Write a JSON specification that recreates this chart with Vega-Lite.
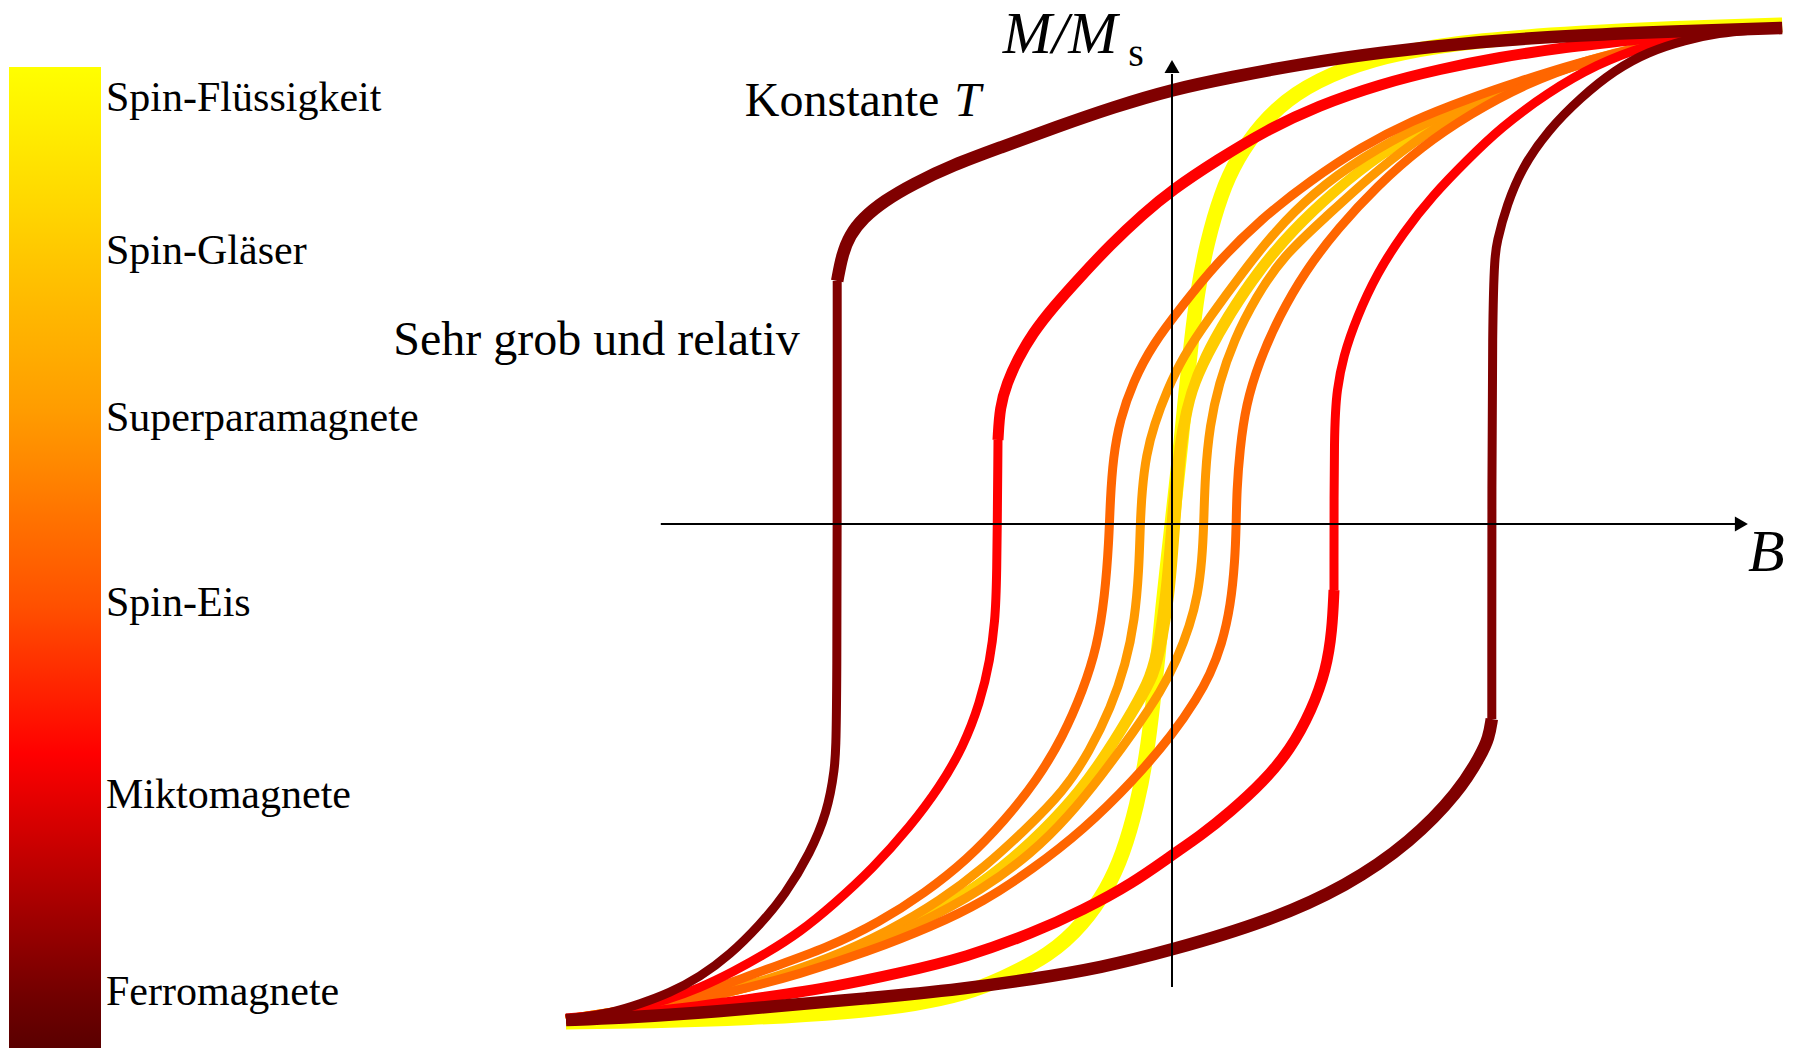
{
  "$schema": "https://vega.github.io/schema/vega-lite/v6.json",
  "width": 1800,
  "height": 1048,
  "padding": 0,
  "autosize": "none",
  "background": "white",
  "config": {"view": {"stroke": null}},
  "datasets": {
    "klassen": [
      {"klasse": "Ferromagnete", "skala": 0.078},
      {"klasse": "Miktomagnete", "skala": 0.30},
      {"klasse": "Spin-Eis", "skala": 0.507},
      {"klasse": "Superparamagnete", "skala": 0.64},
      {"klasse": "Spin-Gläser", "skala": 0.824},
      {"klasse": "Spin-Flüssigkeit", "skala": 1.0}
    ],
    "kurven": [
      {"klasse": "Spin-Flüssigkeit", "zweig": "rev", "teil": "Bogen", "B": -101.0, "M": -99.6},
      {"klasse": "Spin-Flüssigkeit", "zweig": "rev", "teil": "Bogen", "B": -87.0, "M": -99.4},
      {"klasse": "Spin-Flüssigkeit", "zweig": "rev", "teil": "Bogen", "B": -70.3, "M": -98.8},
      {"klasse": "Spin-Flüssigkeit", "zweig": "rev", "teil": "Bogen", "B": -53.7, "M": -97.6},
      {"klasse": "Spin-Flüssigkeit", "zweig": "rev", "teil": "Bogen", "B": -42.5, "M": -96.0},
      {"klasse": "Spin-Flüssigkeit", "zweig": "rev", "teil": "Bogen", "B": -34.2, "M": -93.8},
      {"klasse": "Spin-Flüssigkeit", "zweig": "rev", "teil": "Bogen", "B": -28.7, "M": -91.2},
      {"klasse": "Spin-Flüssigkeit", "zweig": "rev", "teil": "Bogen", "B": -20.3, "M": -86.2},
      {"klasse": "Spin-Flüssigkeit", "zweig": "rev", "teil": "Bogen", "B": -14.8, "M": -80.0},
      {"klasse": "Spin-Flüssigkeit", "zweig": "rev", "teil": "Bogen", "B": -10.8, "M": -73.0},
      {"klasse": "Spin-Flüssigkeit", "zweig": "rev", "teil": "Bogen", "B": -8.2, "M": -66.2},
      {"klasse": "Spin-Flüssigkeit", "zweig": "rev", "teil": "Bogen", "B": -5.8, "M": -56.2},
      {"klasse": "Spin-Flüssigkeit", "zweig": "rev", "teil": "Bogen", "B": -4.2, "M": -46.2},
      {"klasse": "Spin-Flüssigkeit", "zweig": "rev", "teil": "Bogen", "B": -3.2, "M": -36.2},
      {"klasse": "Spin-Flüssigkeit", "zweig": "rev", "teil": "Bogen", "B": -2.3, "M": -26.2},
      {"klasse": "Spin-Flüssigkeit", "zweig": "rev", "teil": "Bogen", "B": -1.5, "M": -16.2},
      {"klasse": "Spin-Flüssigkeit", "zweig": "rev", "teil": "Bogen", "B": -0.7, "M": -7.6},
      {"klasse": "Spin-Flüssigkeit", "zweig": "rev", "teil": "Bogen", "B": 0.0, "M": 0.0},
      {"klasse": "Spin-Flüssigkeit", "zweig": "rev", "teil": "Bogen", "B": 0.7, "M": 7.6},
      {"klasse": "Spin-Flüssigkeit", "zweig": "rev", "teil": "Bogen", "B": 1.5, "M": 16.2},
      {"klasse": "Spin-Flüssigkeit", "zweig": "rev", "teil": "Bogen", "B": 2.3, "M": 26.2},
      {"klasse": "Spin-Flüssigkeit", "zweig": "rev", "teil": "Bogen", "B": 3.2, "M": 36.2},
      {"klasse": "Spin-Flüssigkeit", "zweig": "rev", "teil": "Bogen", "B": 4.2, "M": 46.2},
      {"klasse": "Spin-Flüssigkeit", "zweig": "rev", "teil": "Bogen", "B": 5.8, "M": 56.2},
      {"klasse": "Spin-Flüssigkeit", "zweig": "rev", "teil": "Bogen", "B": 8.2, "M": 66.2},
      {"klasse": "Spin-Flüssigkeit", "zweig": "rev", "teil": "Bogen", "B": 10.8, "M": 73.0},
      {"klasse": "Spin-Flüssigkeit", "zweig": "rev", "teil": "Bogen", "B": 14.8, "M": 80.0},
      {"klasse": "Spin-Flüssigkeit", "zweig": "rev", "teil": "Bogen", "B": 20.3, "M": 86.2},
      {"klasse": "Spin-Flüssigkeit", "zweig": "rev", "teil": "Bogen", "B": 28.7, "M": 91.2},
      {"klasse": "Spin-Flüssigkeit", "zweig": "rev", "teil": "Bogen", "B": 38.0, "M": 94.4},
      {"klasse": "Spin-Flüssigkeit", "zweig": "rev", "teil": "Bogen", "B": 51.3, "M": 96.8},
      {"klasse": "Spin-Flüssigkeit", "zweig": "rev", "teil": "Bogen", "B": 68.0, "M": 98.2},
      {"klasse": "Spin-Flüssigkeit", "zweig": "rev", "teil": "Bogen", "B": 84.7, "M": 99.2},
      {"klasse": "Spin-Flüssigkeit", "zweig": "rev", "teil": "Bogen", "B": 101.7, "M": 99.8},

      {"klasse": "Spin-Gläser", "zweig": "ab", "teil": "Bogen", "B": 88.0, "M": 98.0},
      {"klasse": "Spin-Gläser", "zweig": "ab", "teil": "Bogen", "B": 78.0, "M": 95.2},
      {"klasse": "Spin-Gläser", "zweig": "ab", "teil": "Bogen", "B": 65.3, "M": 91.2},
      {"klasse": "Spin-Gläser", "zweig": "ab", "teil": "Bogen", "B": 53.7, "M": 86.0},
      {"klasse": "Spin-Gläser", "zweig": "ab", "teil": "Bogen", "B": 43.2, "M": 80.0},
      {"klasse": "Spin-Gläser", "zweig": "ab", "teil": "Bogen", "B": 34.0, "M": 73.4},
      {"klasse": "Spin-Gläser", "zweig": "ab", "teil": "Bogen", "B": 26.3, "M": 66.0},
      {"klasse": "Spin-Gläser", "zweig": "ab", "teil": "Bogen", "B": 19.8, "M": 58.6},
      {"klasse": "Spin-Gläser", "zweig": "ab", "teil": "Bogen", "B": 14.0, "M": 50.4},
      {"klasse": "Spin-Gläser", "zweig": "ab", "teil": "Bogen", "B": 9.0, "M": 41.4},
      {"klasse": "Spin-Gläser", "zweig": "ab", "teil": "Bogen", "B": 5.3, "M": 33.4},
      {"klasse": "Spin-Gläser", "zweig": "ab", "teil": "Bogen", "B": 3.0, "M": 26.4},
      {"klasse": "Spin-Gläser", "zweig": "ab", "teil": "Bogen", "B": 1.5, "M": 18.8},
      {"klasse": "Spin-Gläser", "zweig": "ab", "teil": "Bogen", "B": 0.7, "M": 10.8},
      {"klasse": "Spin-Gläser", "zweig": "ab", "teil": "Bogen", "B": 0.0, "M": 2.8},
      {"klasse": "Spin-Gläser", "zweig": "ab", "teil": "Bogen", "B": -0.5, "M": -5.2},
      {"klasse": "Spin-Gläser", "zweig": "ab", "teil": "Bogen", "B": -1.2, "M": -14.2},
      {"klasse": "Spin-Gläser", "zweig": "ab", "teil": "Bogen", "B": -2.2, "M": -23.2},
      {"klasse": "Spin-Gläser", "zweig": "ab", "teil": "Bogen", "B": -3.7, "M": -30.8},
      {"klasse": "Spin-Gläser", "zweig": "ab", "teil": "Bogen", "B": -6.5, "M": -36.8},
      {"klasse": "Spin-Gläser", "zweig": "ab", "teil": "Bogen", "B": -10.8, "M": -45.4},
      {"klasse": "Spin-Gläser", "zweig": "ab", "teil": "Bogen", "B": -15.5, "M": -53.4},
      {"klasse": "Spin-Gläser", "zweig": "ab", "teil": "Bogen", "B": -21.5, "M": -61.2},
      {"klasse": "Spin-Gläser", "zweig": "ab", "teil": "Bogen", "B": -28.3, "M": -68.6},
      {"klasse": "Spin-Gläser", "zweig": "ab", "teil": "Bogen", "B": -36.3, "M": -75.4},
      {"klasse": "Spin-Gläser", "zweig": "ab", "teil": "Bogen", "B": -45.5, "M": -81.4},
      {"klasse": "Spin-Gläser", "zweig": "ab", "teil": "Bogen", "B": -56.2, "M": -87.0},
      {"klasse": "Spin-Gläser", "zweig": "ab", "teil": "Bogen", "B": -67.3, "M": -91.6},
      {"klasse": "Spin-Gläser", "zweig": "ab", "teil": "Bogen", "B": -78.7, "M": -95.2},
      {"klasse": "Spin-Gläser", "zweig": "ab", "teil": "Bogen", "B": -89.8, "M": -97.4},
      {"klasse": "Spin-Gläser", "zweig": "ab", "teil": "Bogen", "B": -101.0, "M": -99.0},

      {"klasse": "Spin-Gläser", "zweig": "auf", "teil": "Bogen", "B": -101.0, "M": -99.0},
      {"klasse": "Spin-Gläser", "zweig": "auf", "teil": "Bogen", "B": -89.8, "M": -97.0},
      {"klasse": "Spin-Gläser", "zweig": "auf", "teil": "Bogen", "B": -78.3, "M": -94.8},
      {"klasse": "Spin-Gläser", "zweig": "auf", "teil": "Bogen", "B": -66.8, "M": -91.2},
      {"klasse": "Spin-Gläser", "zweig": "auf", "teil": "Bogen", "B": -55.5, "M": -86.6},
      {"klasse": "Spin-Gläser", "zweig": "auf", "teil": "Bogen", "B": -44.8, "M": -81.0},
      {"klasse": "Spin-Gläser", "zweig": "auf", "teil": "Bogen", "B": -35.7, "M": -75.0},
      {"klasse": "Spin-Gläser", "zweig": "auf", "teil": "Bogen", "B": -27.7, "M": -68.2},
      {"klasse": "Spin-Gläser", "zweig": "auf", "teil": "Bogen", "B": -20.8, "M": -60.8},
      {"klasse": "Spin-Gläser", "zweig": "auf", "teil": "Bogen", "B": -14.8, "M": -53.0},
      {"klasse": "Spin-Gläser", "zweig": "auf", "teil": "Bogen", "B": -10.2, "M": -45.0},
      {"klasse": "Spin-Gläser", "zweig": "auf", "teil": "Bogen", "B": -5.8, "M": -36.4},
      {"klasse": "Spin-Gläser", "zweig": "auf", "teil": "Bogen", "B": -2.8, "M": -30.4},
      {"klasse": "Spin-Gläser", "zweig": "auf", "teil": "Bogen", "B": -1.5, "M": -23.2},
      {"klasse": "Spin-Gläser", "zweig": "auf", "teil": "Bogen", "B": -0.3, "M": -14.2},
      {"klasse": "Spin-Gläser", "zweig": "auf", "teil": "Bogen", "B": 0.3, "M": -5.2},
      {"klasse": "Spin-Gläser", "zweig": "auf", "teil": "Bogen", "B": 0.8, "M": 2.8},
      {"klasse": "Spin-Gläser", "zweig": "auf", "teil": "Bogen", "B": 1.3, "M": 10.8},
      {"klasse": "Spin-Gläser", "zweig": "auf", "teil": "Bogen", "B": 2.0, "M": 18.8},
      {"klasse": "Spin-Gläser", "zweig": "auf", "teil": "Bogen", "B": 3.3, "M": 26.8},
      {"klasse": "Spin-Gläser", "zweig": "auf", "teil": "Bogen", "B": 6.0, "M": 33.8},
      {"klasse": "Spin-Gläser", "zweig": "auf", "teil": "Bogen", "B": 9.7, "M": 41.8},
      {"klasse": "Spin-Gläser", "zweig": "auf", "teil": "Bogen", "B": 14.7, "M": 50.8},
      {"klasse": "Spin-Gläser", "zweig": "auf", "teil": "Bogen", "B": 20.5, "M": 59.0},
      {"klasse": "Spin-Gläser", "zweig": "auf", "teil": "Bogen", "B": 27.0, "M": 66.4},
      {"klasse": "Spin-Gläser", "zweig": "auf", "teil": "Bogen", "B": 34.7, "M": 73.8},
      {"klasse": "Spin-Gläser", "zweig": "auf", "teil": "Bogen", "B": 43.8, "M": 80.4},
      {"klasse": "Spin-Gläser", "zweig": "auf", "teil": "Bogen", "B": 54.3, "M": 86.4},
      {"klasse": "Spin-Gläser", "zweig": "auf", "teil": "Bogen", "B": 66.0, "M": 91.6},
      {"klasse": "Spin-Gläser", "zweig": "auf", "teil": "Bogen", "B": 78.7, "M": 95.4},
      {"klasse": "Spin-Gläser", "zweig": "auf", "teil": "Bogen", "B": 88.0, "M": 98.0},

      {"klasse": "Superparamagnete", "zweig": "ab", "teil": "Bogen", "B": 88.0, "M": 98.0},
      {"klasse": "Superparamagnete", "zweig": "ab", "teil": "Bogen", "B": 78.0, "M": 95.2},
      {"klasse": "Superparamagnete", "zweig": "ab", "teil": "Bogen", "B": 65.8, "M": 91.2},
      {"klasse": "Superparamagnete", "zweig": "ab", "teil": "Bogen", "B": 53.0, "M": 86.0},
      {"klasse": "Superparamagnete", "zweig": "ab", "teil": "Bogen", "B": 41.8, "M": 80.0},
      {"klasse": "Superparamagnete", "zweig": "ab", "teil": "Bogen", "B": 31.7, "M": 73.4},
      {"klasse": "Superparamagnete", "zweig": "ab", "teil": "Bogen", "B": 23.3, "M": 66.0},
      {"klasse": "Superparamagnete", "zweig": "ab", "teil": "Bogen", "B": 17.2, "M": 58.6},
      {"klasse": "Superparamagnete", "zweig": "ab", "teil": "Bogen", "B": 11.8, "M": 50.4},
      {"klasse": "Superparamagnete", "zweig": "ab", "teil": "Bogen", "B": 6.3, "M": 41.4},
      {"klasse": "Superparamagnete", "zweig": "ab", "teil": "Bogen", "B": 1.8, "M": 33.4},
      {"klasse": "Superparamagnete", "zweig": "ab", "teil": "Bogen", "B": -0.8, "M": 26.8},
      {"klasse": "Superparamagnete", "zweig": "ab", "teil": "Bogen", "B": -3.0, "M": 19.8},
      {"klasse": "Superparamagnete", "zweig": "ab", "teil": "Bogen", "B": -4.3, "M": 13.8},
      {"klasse": "Superparamagnete", "zweig": "ab", "teil": "Bogen", "B": -5.0, "M": 6.8},
      {"klasse": "Superparamagnete", "zweig": "ab", "teil": "Bogen", "B": -5.3, "M": -0.2},
      {"klasse": "Superparamagnete", "zweig": "ab", "teil": "Bogen", "B": -5.5, "M": -9.2},
      {"klasse": "Superparamagnete", "zweig": "ab", "teil": "Bogen", "B": -6.2, "M": -19.2},
      {"klasse": "Superparamagnete", "zweig": "ab", "teil": "Bogen", "B": -7.7, "M": -28.0},
      {"klasse": "Superparamagnete", "zweig": "ab", "teil": "Bogen", "B": -10.2, "M": -36.8},
      {"klasse": "Superparamagnete", "zweig": "ab", "teil": "Bogen", "B": -13.7, "M": -45.4},
      {"klasse": "Superparamagnete", "zweig": "ab", "teil": "Bogen", "B": -18.0, "M": -53.4},
      {"klasse": "Superparamagnete", "zweig": "ab", "teil": "Bogen", "B": -24.5, "M": -61.2},
      {"klasse": "Superparamagnete", "zweig": "ab", "teil": "Bogen", "B": -31.2, "M": -68.6},
      {"klasse": "Superparamagnete", "zweig": "ab", "teil": "Bogen", "B": -38.7, "M": -75.4},
      {"klasse": "Superparamagnete", "zweig": "ab", "teil": "Bogen", "B": -47.2, "M": -81.4},
      {"klasse": "Superparamagnete", "zweig": "ab", "teil": "Bogen", "B": -57.3, "M": -87.0},
      {"klasse": "Superparamagnete", "zweig": "ab", "teil": "Bogen", "B": -68.7, "M": -91.6},
      {"klasse": "Superparamagnete", "zweig": "ab", "teil": "Bogen", "B": -78.7, "M": -94.8},
      {"klasse": "Superparamagnete", "zweig": "ab", "teil": "Bogen", "B": -89.8, "M": -97.4},
      {"klasse": "Superparamagnete", "zweig": "ab", "teil": "Bogen", "B": -101.0, "M": -99.0},

      {"klasse": "Superparamagnete", "zweig": "auf", "teil": "Bogen", "B": -101.0, "M": -99.0},
      {"klasse": "Superparamagnete", "zweig": "auf", "teil": "Bogen", "B": -89.8, "M": -97.0},
      {"klasse": "Superparamagnete", "zweig": "auf", "teil": "Bogen", "B": -78.0, "M": -95.0},
      {"klasse": "Superparamagnete", "zweig": "auf", "teil": "Bogen", "B": -65.8, "M": -91.2},
      {"klasse": "Superparamagnete", "zweig": "auf", "teil": "Bogen", "B": -53.0, "M": -85.8},
      {"klasse": "Superparamagnete", "zweig": "auf", "teil": "Bogen", "B": -41.8, "M": -79.8},
      {"klasse": "Superparamagnete", "zweig": "auf", "teil": "Bogen", "B": -31.7, "M": -73.2},
      {"klasse": "Superparamagnete", "zweig": "auf", "teil": "Bogen", "B": -23.3, "M": -65.8},
      {"klasse": "Superparamagnete", "zweig": "auf", "teil": "Bogen", "B": -17.2, "M": -58.4},
      {"klasse": "Superparamagnete", "zweig": "auf", "teil": "Bogen", "B": -11.8, "M": -50.4},
      {"klasse": "Superparamagnete", "zweig": "auf", "teil": "Bogen", "B": -6.3, "M": -41.4},
      {"klasse": "Superparamagnete", "zweig": "auf", "teil": "Bogen", "B": -1.8, "M": -33.4},
      {"klasse": "Superparamagnete", "zweig": "auf", "teil": "Bogen", "B": 0.8, "M": -27.2},
      {"klasse": "Superparamagnete", "zweig": "auf", "teil": "Bogen", "B": 3.0, "M": -20.2},
      {"klasse": "Superparamagnete", "zweig": "auf", "teil": "Bogen", "B": 4.3, "M": -14.2},
      {"klasse": "Superparamagnete", "zweig": "auf", "teil": "Bogen", "B": 5.0, "M": -7.2},
      {"klasse": "Superparamagnete", "zweig": "auf", "teil": "Bogen", "B": 5.3, "M": -0.2},
      {"klasse": "Superparamagnete", "zweig": "auf", "teil": "Bogen", "B": 5.5, "M": 9.8},
      {"klasse": "Superparamagnete", "zweig": "auf", "teil": "Bogen", "B": 6.3, "M": 19.8},
      {"klasse": "Superparamagnete", "zweig": "auf", "teil": "Bogen", "B": 7.8, "M": 28.0},
      {"klasse": "Superparamagnete", "zweig": "auf", "teil": "Bogen", "B": 10.3, "M": 36.8},
      {"klasse": "Superparamagnete", "zweig": "auf", "teil": "Bogen", "B": 14.0, "M": 45.4},
      {"klasse": "Superparamagnete", "zweig": "auf", "teil": "Bogen", "B": 18.5, "M": 53.6},
      {"klasse": "Superparamagnete", "zweig": "auf", "teil": "Bogen", "B": 26.0, "M": 61.8},
      {"klasse": "Superparamagnete", "zweig": "auf", "teil": "Bogen", "B": 32.7, "M": 69.2},
      {"klasse": "Superparamagnete", "zweig": "auf", "teil": "Bogen", "B": 40.0, "M": 76.2},
      {"klasse": "Superparamagnete", "zweig": "auf", "teil": "Bogen", "B": 47.8, "M": 82.2},
      {"klasse": "Superparamagnete", "zweig": "auf", "teil": "Bogen", "B": 58.3, "M": 87.8},
      {"klasse": "Superparamagnete", "zweig": "auf", "teil": "Bogen", "B": 69.7, "M": 93.2},
      {"klasse": "Superparamagnete", "zweig": "auf", "teil": "Bogen", "B": 79.7, "M": 95.8},
      {"klasse": "Superparamagnete", "zweig": "auf", "teil": "Bogen", "B": 88.0, "M": 98.0},

      {"klasse": "Spin-Eis", "zweig": "ab", "teil": "Bogen", "B": 88.0, "M": 98.0},
      {"klasse": "Spin-Eis", "zweig": "ab", "teil": "Bogen", "B": 78.7, "M": 95.6},
      {"klasse": "Spin-Eis", "zweig": "ab", "teil": "Bogen", "B": 67.5, "M": 92.2},
      {"klasse": "Spin-Eis", "zweig": "ab", "teil": "Bogen", "B": 57.5, "M": 88.4},
      {"klasse": "Spin-Eis", "zweig": "ab", "teil": "Bogen", "B": 49.7, "M": 85.2},
      {"klasse": "Spin-Eis", "zweig": "ab", "teil": "Bogen", "B": 39.8, "M": 80.6},
      {"klasse": "Spin-Eis", "zweig": "ab", "teil": "Bogen", "B": 31.5, "M": 75.4},
      {"klasse": "Spin-Eis", "zweig": "ab", "teil": "Bogen", "B": 23.2, "M": 68.8},
      {"klasse": "Spin-Eis", "zweig": "ab", "teil": "Bogen", "B": 14.8, "M": 61.0},
      {"klasse": "Spin-Eis", "zweig": "ab", "teil": "Bogen", "B": 7.3, "M": 52.0},
      {"klasse": "Spin-Eis", "zweig": "ab", "teil": "Bogen", "B": 1.8, "M": 43.8},
      {"klasse": "Spin-Eis", "zweig": "ab", "teil": "Bogen", "B": -3.3, "M": 35.8},
      {"klasse": "Spin-Eis", "zweig": "ab", "teil": "Bogen", "B": -6.5, "M": 28.4},
      {"klasse": "Spin-Eis", "zweig": "ab", "teil": "Bogen", "B": -8.7, "M": 20.8},
      {"klasse": "Spin-Eis", "zweig": "ab", "teil": "Bogen", "B": -9.8, "M": 13.4},
      {"klasse": "Spin-Eis", "zweig": "ab", "teil": "Bogen", "B": -10.3, "M": 4.8},
      {"klasse": "Spin-Eis", "zweig": "ab", "teil": "Bogen", "B": -10.5, "M": -3.2},
      {"klasse": "Spin-Eis", "zweig": "ab", "teil": "Bogen", "B": -11.2, "M": -14.6},
      {"klasse": "Spin-Eis", "zweig": "ab", "teil": "Bogen", "B": -12.5, "M": -24.6},
      {"klasse": "Spin-Eis", "zweig": "ab", "teil": "Bogen", "B": -14.8, "M": -33.2},
      {"klasse": "Spin-Eis", "zweig": "ab", "teil": "Bogen", "B": -18.2, "M": -42.6},
      {"klasse": "Spin-Eis", "zweig": "ab", "teil": "Bogen", "B": -22.5, "M": -51.2},
      {"klasse": "Spin-Eis", "zweig": "ab", "teil": "Bogen", "B": -27.8, "M": -59.2},
      {"klasse": "Spin-Eis", "zweig": "ab", "teil": "Bogen", "B": -34.2, "M": -67.2},
      {"klasse": "Spin-Eis", "zweig": "ab", "teil": "Bogen", "B": -41.2, "M": -73.8},
      {"klasse": "Spin-Eis", "zweig": "ab", "teil": "Bogen", "B": -48.7, "M": -79.6},
      {"klasse": "Spin-Eis", "zweig": "ab", "teil": "Bogen", "B": -57.5, "M": -84.8},
      {"klasse": "Spin-Eis", "zweig": "ab", "teil": "Bogen", "B": -67.5, "M": -89.0},
      {"klasse": "Spin-Eis", "zweig": "ab", "teil": "Bogen", "B": -73.2, "M": -91.6},
      {"klasse": "Spin-Eis", "zweig": "ab", "teil": "Bogen", "B": -78.7, "M": -94.0},
      {"klasse": "Spin-Eis", "zweig": "ab", "teil": "Bogen", "B": -87.0, "M": -96.4},
      {"klasse": "Spin-Eis", "zweig": "ab", "teil": "Bogen", "B": -95.3, "M": -98.0},
      {"klasse": "Spin-Eis", "zweig": "ab", "teil": "Bogen", "B": -101.0, "M": -99.0},

      {"klasse": "Spin-Eis", "zweig": "auf", "teil": "Bogen", "B": -101.0, "M": -99.0},
      {"klasse": "Spin-Eis", "zweig": "auf", "teil": "Bogen", "B": -87.0, "M": -96.8},
      {"klasse": "Spin-Eis", "zweig": "auf", "teil": "Bogen", "B": -73.2, "M": -93.6},
      {"klasse": "Spin-Eis", "zweig": "auf", "teil": "Bogen", "B": -62.0, "M": -90.0},
      {"klasse": "Spin-Eis", "zweig": "auf", "teil": "Bogen", "B": -50.8, "M": -85.6},
      {"klasse": "Spin-Eis", "zweig": "auf", "teil": "Bogen", "B": -39.8, "M": -80.4},
      {"klasse": "Spin-Eis", "zweig": "auf", "teil": "Bogen", "B": -31.5, "M": -75.6},
      {"klasse": "Spin-Eis", "zweig": "auf", "teil": "Bogen", "B": -23.2, "M": -69.0},
      {"klasse": "Spin-Eis", "zweig": "auf", "teil": "Bogen", "B": -14.8, "M": -61.2},
      {"klasse": "Spin-Eis", "zweig": "auf", "teil": "Bogen", "B": -6.5, "M": -51.4},
      {"klasse": "Spin-Eis", "zweig": "auf", "teil": "Bogen", "B": 0.2, "M": -42.0},
      {"klasse": "Spin-Eis", "zweig": "auf", "teil": "Bogen", "B": 4.2, "M": -34.8},
      {"klasse": "Spin-Eis", "zweig": "auf", "teil": "Bogen", "B": 6.3, "M": -30.2},
      {"klasse": "Spin-Eis", "zweig": "auf", "teil": "Bogen", "B": 8.3, "M": -24.2},
      {"klasse": "Spin-Eis", "zweig": "auf", "teil": "Bogen", "B": 9.8, "M": -16.2},
      {"klasse": "Spin-Eis", "zweig": "auf", "teil": "Bogen", "B": 10.5, "M": -7.2},
      {"klasse": "Spin-Eis", "zweig": "auf", "teil": "Bogen", "B": 10.7, "M": -0.2},
      {"klasse": "Spin-Eis", "zweig": "auf", "teil": "Bogen", "B": 10.8, "M": 6.8},
      {"klasse": "Spin-Eis", "zweig": "auf", "teil": "Bogen", "B": 11.3, "M": 14.8},
      {"klasse": "Spin-Eis", "zweig": "auf", "teil": "Bogen", "B": 12.3, "M": 23.8},
      {"klasse": "Spin-Eis", "zweig": "auf", "teil": "Bogen", "B": 14.5, "M": 32.4},
      {"klasse": "Spin-Eis", "zweig": "auf", "teil": "Bogen", "B": 17.8, "M": 41.4},
      {"klasse": "Spin-Eis", "zweig": "auf", "teil": "Bogen", "B": 22.2, "M": 50.6},
      {"klasse": "Spin-Eis", "zweig": "auf", "teil": "Bogen", "B": 27.7, "M": 59.2},
      {"klasse": "Spin-Eis", "zweig": "auf", "teil": "Bogen", "B": 34.2, "M": 67.6},
      {"klasse": "Spin-Eis", "zweig": "auf", "teil": "Bogen", "B": 41.5, "M": 75.4},
      {"klasse": "Spin-Eis", "zweig": "auf", "teil": "Bogen", "B": 49.7, "M": 82.0},
      {"klasse": "Spin-Eis", "zweig": "auf", "teil": "Bogen", "B": 58.8, "M": 88.0},
      {"klasse": "Spin-Eis", "zweig": "auf", "teil": "Bogen", "B": 69.7, "M": 92.8},
      {"klasse": "Spin-Eis", "zweig": "auf", "teil": "Bogen", "B": 79.7, "M": 95.8},
      {"klasse": "Spin-Eis", "zweig": "auf", "teil": "Bogen", "B": 88.0, "M": 98.0},

      {"klasse": "Miktomagnete", "zweig": "ab", "teil": "Flanke", "B": -29.0, "M": 16.8},
      {"klasse": "Miktomagnete", "zweig": "ab", "teil": "Flanke", "B": -29.2, "M": -12.6},
      {"klasse": "Miktomagnete", "zweig": "ab", "teil": "Flanke", "B": -29.5, "M": -19.2},
      {"klasse": "Miktomagnete", "zweig": "ab", "teil": "Flanke", "B": -30.3, "M": -27.2},
      {"klasse": "Miktomagnete", "zweig": "ab", "teil": "Flanke", "B": -32.0, "M": -35.8},
      {"klasse": "Miktomagnete", "zweig": "ab", "teil": "Flanke", "B": -34.8, "M": -44.6},
      {"klasse": "Miktomagnete", "zweig": "ab", "teil": "Flanke", "B": -38.7, "M": -52.6},
      {"klasse": "Miktomagnete", "zweig": "ab", "teil": "Flanke", "B": -43.7, "M": -60.6},
      {"klasse": "Miktomagnete", "zweig": "ab", "teil": "Flanke", "B": -49.8, "M": -68.8},
      {"klasse": "Miktomagnete", "zweig": "ab", "teil": "Flanke", "B": -56.5, "M": -76.2},
      {"klasse": "Miktomagnete", "zweig": "ab", "teil": "Flanke", "B": -62.0, "M": -81.6},
      {"klasse": "Miktomagnete", "zweig": "ab", "teil": "Flanke", "B": -67.5, "M": -85.8},
      {"klasse": "Miktomagnete", "zweig": "ab", "teil": "Flanke", "B": -73.2, "M": -89.6},
      {"klasse": "Miktomagnete", "zweig": "ab", "teil": "Flanke", "B": -78.7, "M": -92.8},
      {"klasse": "Miktomagnete", "zweig": "ab", "teil": "Flanke", "B": -84.2, "M": -95.2},
      {"klasse": "Miktomagnete", "zweig": "ab", "teil": "Flanke", "B": -89.8, "M": -97.0},
      {"klasse": "Miktomagnete", "zweig": "ab", "teil": "Flanke", "B": -95.3, "M": -98.2},
      {"klasse": "Miktomagnete", "zweig": "ab", "teil": "Flanke", "B": -101.0, "M": -99.0},

      {"klasse": "Miktomagnete", "zweig": "auf", "teil": "Flanke", "B": 27.0, "M": -13.2},
      {"klasse": "Miktomagnete", "zweig": "auf", "teil": "Flanke", "B": 27.0, "M": 20.2},
      {"klasse": "Miktomagnete", "zweig": "auf", "teil": "Flanke", "B": 27.5, "M": 26.8},
      {"klasse": "Miktomagnete", "zweig": "auf", "teil": "Flanke", "B": 28.5, "M": 33.4},
      {"klasse": "Miktomagnete", "zweig": "auf", "teil": "Flanke", "B": 30.8, "M": 41.4},
      {"klasse": "Miktomagnete", "zweig": "auf", "teil": "Flanke", "B": 34.2, "M": 50.2},
      {"klasse": "Miktomagnete", "zweig": "auf", "teil": "Flanke", "B": 38.5, "M": 58.2},
      {"klasse": "Miktomagnete", "zweig": "auf", "teil": "Flanke", "B": 43.5, "M": 65.8},
      {"klasse": "Miktomagnete", "zweig": "auf", "teil": "Flanke", "B": 49.2, "M": 72.8},
      {"klasse": "Miktomagnete", "zweig": "auf", "teil": "Flanke", "B": 54.7, "M": 79.2},
      {"klasse": "Miktomagnete", "zweig": "auf", "teil": "Flanke", "B": 62.5, "M": 86.2},
      {"klasse": "Miktomagnete", "zweig": "auf", "teil": "Flanke", "B": 70.8, "M": 92.0},
      {"klasse": "Miktomagnete", "zweig": "auf", "teil": "Flanke", "B": 79.2, "M": 95.8},
      {"klasse": "Miktomagnete", "zweig": "auf", "teil": "Flanke", "B": 87.5, "M": 98.0},
      {"klasse": "Miktomagnete", "zweig": "auf", "teil": "Flanke", "B": 91.3, "M": 98.6},

      {"klasse": "Miktomagnete", "zweig": "ab", "teil": "Bogen", "B": 91.3, "M": 98.6},
      {"klasse": "Miktomagnete", "zweig": "ab", "teil": "Bogen", "B": 84.7, "M": 98.0},
      {"klasse": "Miktomagnete", "zweig": "ab", "teil": "Bogen", "B": 74.7, "M": 96.6},
      {"klasse": "Miktomagnete", "zweig": "ab", "teil": "Bogen", "B": 64.7, "M": 95.2},
      {"klasse": "Miktomagnete", "zweig": "ab", "teil": "Bogen", "B": 54.7, "M": 93.4},
      {"klasse": "Miktomagnete", "zweig": "ab", "teil": "Bogen", "B": 44.7, "M": 91.0},
      {"klasse": "Miktomagnete", "zweig": "ab", "teil": "Bogen", "B": 34.7, "M": 88.0},
      {"klasse": "Miktomagnete", "zweig": "ab", "teil": "Bogen", "B": 24.2, "M": 83.6},
      {"klasse": "Miktomagnete", "zweig": "ab", "teil": "Bogen", "B": 15.8, "M": 78.8},
      {"klasse": "Miktomagnete", "zweig": "ab", "teil": "Bogen", "B": 7.5, "M": 72.8},
      {"klasse": "Miktomagnete", "zweig": "ab", "teil": "Bogen", "B": 0.0, "M": 66.8},
      {"klasse": "Miktomagnete", "zweig": "ab", "teil": "Bogen", "B": -4.8, "M": 62.0},
      {"klasse": "Miktomagnete", "zweig": "ab", "teil": "Bogen", "B": -10.3, "M": 55.8},
      {"klasse": "Miktomagnete", "zweig": "ab", "teil": "Bogen", "B": -15.3, "M": 49.4},
      {"klasse": "Miktomagnete", "zweig": "ab", "teil": "Bogen", "B": -19.8, "M": 43.4},
      {"klasse": "Miktomagnete", "zweig": "ab", "teil": "Bogen", "B": -23.2, "M": 38.2},
      {"klasse": "Miktomagnete", "zweig": "ab", "teil": "Bogen", "B": -25.8, "M": 32.8},
      {"klasse": "Miktomagnete", "zweig": "ab", "teil": "Bogen", "B": -27.5, "M": 28.2},
      {"klasse": "Miktomagnete", "zweig": "ab", "teil": "Bogen", "B": -28.7, "M": 23.4},
      {"klasse": "Miktomagnete", "zweig": "ab", "teil": "Bogen", "B": -29.0, "M": 16.8},

      {"klasse": "Miktomagnete", "zweig": "auf", "teil": "Bogen", "B": -101.0, "M": -99.0},
      {"klasse": "Miktomagnete", "zweig": "auf", "teil": "Bogen", "B": -92.0, "M": -98.2},
      {"klasse": "Miktomagnete", "zweig": "auf", "teil": "Bogen", "B": -78.7, "M": -96.6},
      {"klasse": "Miktomagnete", "zweig": "auf", "teil": "Bogen", "B": -67.5, "M": -94.6},
      {"klasse": "Miktomagnete", "zweig": "auf", "teil": "Bogen", "B": -56.5, "M": -92.6},
      {"klasse": "Miktomagnete", "zweig": "auf", "teil": "Bogen", "B": -45.3, "M": -89.8},
      {"klasse": "Miktomagnete", "zweig": "auf", "teil": "Bogen", "B": -34.2, "M": -86.6},
      {"klasse": "Miktomagnete", "zweig": "auf", "teil": "Bogen", "B": -23.2, "M": -81.8},
      {"klasse": "Miktomagnete", "zweig": "auf", "teil": "Bogen", "B": -14.8, "M": -77.2},
      {"klasse": "Miktomagnete", "zweig": "auf", "teil": "Bogen", "B": -6.5, "M": -71.8},
      {"klasse": "Miktomagnete", "zweig": "auf", "teil": "Bogen", "B": 0.0, "M": -66.2},
      {"klasse": "Miktomagnete", "zweig": "auf", "teil": "Bogen", "B": 4.7, "M": -62.4},
      {"klasse": "Miktomagnete", "zweig": "auf", "teil": "Bogen", "B": 9.7, "M": -57.6},
      {"klasse": "Miktomagnete", "zweig": "auf", "teil": "Bogen", "B": 15.2, "M": -51.6},
      {"klasse": "Miktomagnete", "zweig": "auf", "teil": "Bogen", "B": 19.7, "M": -45.2},
      {"klasse": "Miktomagnete", "zweig": "auf", "teil": "Bogen", "B": 23.3, "M": -37.2},
      {"klasse": "Miktomagnete", "zweig": "auf", "teil": "Bogen", "B": 25.7, "M": -29.2},
      {"klasse": "Miktomagnete", "zweig": "auf", "teil": "Bogen", "B": 26.7, "M": -21.2},
      {"klasse": "Miktomagnete", "zweig": "auf", "teil": "Bogen", "B": 27.0, "M": -13.2},

      {"klasse": "Ferromagnete", "zweig": "ab", "teil": "Flanke", "B": -55.8, "M": 48.6},
      {"klasse": "Ferromagnete", "zweig": "ab", "teil": "Flanke", "B": -55.8, "M": -41.8},
      {"klasse": "Ferromagnete", "zweig": "ab", "teil": "Flanke", "B": -56.2, "M": -49.2},
      {"klasse": "Ferromagnete", "zweig": "ab", "teil": "Flanke", "B": -57.5, "M": -57.8},
      {"klasse": "Ferromagnete", "zweig": "ab", "teil": "Flanke", "B": -60.3, "M": -65.8},
      {"klasse": "Ferromagnete", "zweig": "ab", "teil": "Flanke", "B": -64.5, "M": -74.2},
      {"klasse": "Ferromagnete", "zweig": "ab", "teil": "Flanke", "B": -68.7, "M": -80.2},
      {"klasse": "Ferromagnete", "zweig": "ab", "teil": "Flanke", "B": -73.7, "M": -86.2},
      {"klasse": "Ferromagnete", "zweig": "ab", "teil": "Flanke", "B": -78.7, "M": -90.6},
      {"klasse": "Ferromagnete", "zweig": "ab", "teil": "Flanke", "B": -83.7, "M": -93.8},
      {"klasse": "Ferromagnete", "zweig": "ab", "teil": "Flanke", "B": -88.7, "M": -96.0},
      {"klasse": "Ferromagnete", "zweig": "ab", "teil": "Flanke", "B": -93.0, "M": -97.6},
      {"klasse": "Ferromagnete", "zweig": "ab", "teil": "Flanke", "B": -97.0, "M": -98.4},
      {"klasse": "Ferromagnete", "zweig": "ab", "teil": "Flanke", "B": -101.0, "M": -99.0},

      {"klasse": "Ferromagnete", "zweig": "auf", "teil": "Flanke", "B": 53.3, "M": -39.0},
      {"klasse": "Ferromagnete", "zweig": "auf", "teil": "Flanke", "B": 53.3, "M": 50.8},
      {"klasse": "Ferromagnete", "zweig": "auf", "teil": "Flanke", "B": 54.2, "M": 56.8},
      {"klasse": "Ferromagnete", "zweig": "auf", "teil": "Flanke", "B": 55.8, "M": 63.8},
      {"klasse": "Ferromagnete", "zweig": "auf", "teil": "Flanke", "B": 58.3, "M": 71.2},
      {"klasse": "Ferromagnete", "zweig": "auf", "teil": "Flanke", "B": 62.7, "M": 78.8},
      {"klasse": "Ferromagnete", "zweig": "auf", "teil": "Flanke", "B": 68.2, "M": 85.4},
      {"klasse": "Ferromagnete", "zweig": "auf", "teil": "Flanke", "B": 73.8, "M": 90.8},
      {"klasse": "Ferromagnete", "zweig": "auf", "teil": "Flanke", "B": 79.3, "M": 94.4},
      {"klasse": "Ferromagnete", "zweig": "auf", "teil": "Flanke", "B": 85.5, "M": 96.8},
      {"klasse": "Ferromagnete", "zweig": "auf", "teil": "Flanke", "B": 91.3, "M": 98.2},
      {"klasse": "Ferromagnete", "zweig": "auf", "teil": "Flanke", "B": 96.3, "M": 98.8},
      {"klasse": "Ferromagnete", "zweig": "auf", "teil": "Flanke", "B": 101.7, "M": 99.2},

      {"klasse": "Ferromagnete", "zweig": "ab", "teil": "Bogen", "B": 101.7, "M": 99.2},
      {"klasse": "Ferromagnete", "zweig": "ab", "teil": "Bogen", "B": 85.0, "M": 98.6},
      {"klasse": "Ferromagnete", "zweig": "ab", "teil": "Bogen", "B": 68.0, "M": 97.8},
      {"klasse": "Ferromagnete", "zweig": "ab", "teil": "Bogen", "B": 51.3, "M": 96.5},
      {"klasse": "Ferromagnete", "zweig": "ab", "teil": "Bogen", "B": 34.5, "M": 94.3},
      {"klasse": "Ferromagnete", "zweig": "ab", "teil": "Bogen", "B": 21.0, "M": 91.9},
      {"klasse": "Ferromagnete", "zweig": "ab", "teil": "Bogen", "B": 10.0, "M": 89.4},
      {"klasse": "Ferromagnete", "zweig": "ab", "teil": "Bogen", "B": 0.0, "M": 86.9},
      {"klasse": "Ferromagnete", "zweig": "ab", "teil": "Bogen", "B": -9.7, "M": 83.4},
      {"klasse": "Ferromagnete", "zweig": "ab", "teil": "Bogen", "B": -19.3, "M": 79.4},
      {"klasse": "Ferromagnete", "zweig": "ab", "teil": "Bogen", "B": -28.8, "M": 75.2},
      {"klasse": "Ferromagnete", "zweig": "ab", "teil": "Bogen", "B": -36.5, "M": 71.8},
      {"klasse": "Ferromagnete", "zweig": "ab", "teil": "Bogen", "B": -43.2, "M": 68.0},
      {"klasse": "Ferromagnete", "zweig": "ab", "teil": "Bogen", "B": -48.0, "M": 64.6},
      {"klasse": "Ferromagnete", "zweig": "ab", "teil": "Bogen", "B": -51.5, "M": 61.2},
      {"klasse": "Ferromagnete", "zweig": "ab", "teil": "Bogen", "B": -53.7, "M": 57.8},
      {"klasse": "Ferromagnete", "zweig": "ab", "teil": "Bogen", "B": -55.0, "M": 53.8},
      {"klasse": "Ferromagnete", "zweig": "ab", "teil": "Bogen", "B": -55.8, "M": 48.6},

      {"klasse": "Ferromagnete", "zweig": "auf", "teil": "Bogen", "B": -101.0, "M": -99.2},
      {"klasse": "Ferromagnete", "zweig": "auf", "teil": "Bogen", "B": -92.0, "M": -98.8},
      {"klasse": "Ferromagnete", "zweig": "auf", "teil": "Bogen", "B": -78.7, "M": -97.8},
      {"klasse": "Ferromagnete", "zweig": "auf", "teil": "Bogen", "B": -67.5, "M": -96.6},
      {"klasse": "Ferromagnete", "zweig": "auf", "teil": "Bogen", "B": -50.8, "M": -94.9},
      {"klasse": "Ferromagnete", "zweig": "auf", "teil": "Bogen", "B": -34.2, "M": -92.9},
      {"klasse": "Ferromagnete", "zweig": "auf", "teil": "Bogen", "B": -23.2, "M": -91.0},
      {"klasse": "Ferromagnete", "zweig": "auf", "teil": "Bogen", "B": -12.0, "M": -88.8},
      {"klasse": "Ferromagnete", "zweig": "auf", "teil": "Bogen", "B": 0.0, "M": -85.2},
      {"klasse": "Ferromagnete", "zweig": "auf", "teil": "Bogen", "B": 15.8, "M": -79.6},
      {"klasse": "Ferromagnete", "zweig": "auf", "teil": "Bogen", "B": 29.2, "M": -72.4},
      {"klasse": "Ferromagnete", "zweig": "auf", "teil": "Bogen", "B": 39.8, "M": -63.6},
      {"klasse": "Ferromagnete", "zweig": "auf", "teil": "Bogen", "B": 47.8, "M": -53.6},
      {"klasse": "Ferromagnete", "zweig": "auf", "teil": "Bogen", "B": 51.5, "M": -46.2},
      {"klasse": "Ferromagnete", "zweig": "auf", "teil": "Bogen", "B": 52.8, "M": -42.8},
      {"klasse": "Ferromagnete", "zweig": "auf", "teil": "Bogen", "B": 53.3, "M": -39.0}
    ]
  },
  "layer": [
    {
      "data": {"name": "kurven"},
      "transform": [
        {"filter": "datum.klasse === 'Spin-Flüssigkeit'"},
        {"lookup": "klasse", "from": {"data": {"name": "klassen"}, "key": "klasse", "fields": ["skala"]}}
      ],
      "mark": {"type": "line", "interpolate": "basis", "strokeWidth": 15, "strokeCap": "butt", "strokeJoin": "round"},
      "encoding": {
        "x": {"field": "B", "type": "quantitative", "scale": {"domain": [-195.333, 104.667], "nice": false, "zero": false}, "axis": null},
        "y": {"field": "M", "type": "quantitative", "scale": {"domain": [-104.8, 104.8], "nice": false, "zero": false}, "axis": null},
        "color": {
          "field": "skala",
          "type": "quantitative",
          "scale": {
            "domain": [0, 0.05, 0.3, 0.45, 0.64, 0.81, 1],
            "range": ["#5a0000", "#700000", "#ff0000", "#ff5000", "#ff9900", "#ffc800", "#ffff00"],
            "interpolate": "rgb"
          },
          "legend": {
            "title": null,
            "orient": "none",
            "legendX": 9,
            "legendY": 67,
            "direction": "vertical",
            "padding": 0,
            "gradientLength": 981,
            "gradientThickness": 92,
            "gradientStrokeWidth": 0,
            "values": [0.0566, 0.2579, 0.4536, 0.6427, 0.8125, 0.9679],
            "labelExpr": "datum.value > 0.9 ? 'Spin-Flüssigkeit' : datum.value > 0.7 ? 'Spin-Gläser' : datum.value > 0.55 ? 'Superparamagnete' : datum.value > 0.35 ? 'Spin-Eis' : datum.value > 0.15 ? 'Miktomagnete' : 'Ferromagnete'",
            "labelFont": "Liberation Serif",
            "labelFontSize": 42,
            "labelColor": "#000000",
            "labelAlign": "left",
            "labelOffset": 5,
            "labelOverlap": false,
            "labelLimit": 1000
          }
        },
        "detail": [{"field": "zweig"}, {"field": "teil"}],
        "order": {"value": null}
      }
    },
    {
      "data": {"name": "kurven"},
      "transform": [
        {"filter": "datum.klasse !== 'Spin-Flüssigkeit'"},
        {"lookup": "klasse", "from": {"data": {"name": "klassen"}, "key": "klasse", "fields": ["skala"]}},
        {"calculate": "datum.klasse === 'Ferromagnete' ? (datum.teil === 'Bogen' ? 12.5 : 9) : datum.klasse === 'Miktomagnete' ? (datum.teil === 'Bogen' ? 11 : 9) : 9", "as": "breite"}
      ],
      "mark": {"type": "line", "interpolate": "basis", "strokeCap": "butt", "strokeJoin": "round"},
      "encoding": {
        "x": {"field": "B", "type": "quantitative", "scale": {"domain": [-195.333, 104.667], "nice": false, "zero": false}, "axis": null},
        "y": {"field": "M", "type": "quantitative", "scale": {"domain": [-104.8, 104.8], "nice": false, "zero": false}, "axis": null},
        "color": {"field": "skala", "type": "quantitative"},
        "strokeWidth": {"field": "breite", "type": "quantitative", "scale": null, "legend": null},
        "detail": [{"field": "zweig"}, {"field": "teil"}],
        "order": {"value": null}
      }
    },
    {
      "data": {"values": [{}]},
      "mark": {"type": "rule", "color": "#000000", "strokeWidth": 2},
      "encoding": {"x": {"datum": -85.2}, "x2": {"datum": 94.0}, "y": {"datum": 0}}
    },
    {
      "data": {"values": [{}]},
      "mark": {"type": "rule", "color": "#000000", "strokeWidth": 2},
      "encoding": {"x": {"datum": 0}, "y": {"datum": -92.6}, "y2": {"datum": 90.0}}
    },
    {
      "data": {"values": [{}]},
      "mark": {"type": "point", "shape": "triangle-right", "size": 225, "filled": true, "color": "#000000", "opacity": 1},
      "encoding": {"x": {"datum": 94.9}, "y": {"datum": 0}}
    },
    {
      "data": {"values": [{}]},
      "mark": {"type": "point", "shape": "triangle-up", "size": 225, "filled": true, "color": "#000000", "opacity": 1},
      "encoding": {"x": {"datum": 0}, "y": {"datum": 91.5}}
    },
    {
      "data": {"values": [{}]},
      "mark": {"type": "text", "font": "Liberation Serif", "fontSize": 59, "fontStyle": "italic", "align": "left", "baseline": "alphabetic", "color": "#000000"},
      "encoding": {"x": {"datum": -28.2}, "y": {"datum": 94.2}, "text": {"value": "M/M"}}
    },
    {
      "data": {"values": [{}]},
      "mark": {"type": "text", "font": "Liberation Serif", "fontSize": 40, "align": "left", "baseline": "alphabetic", "color": "#000000"},
      "encoding": {"x": {"datum": -7.3}, "y": {"datum": 91.6}, "text": {"value": "s"}}
    },
    {
      "data": {"values": [{}]},
      "mark": {"type": "text", "font": "Liberation Serif", "fontSize": 60, "fontStyle": "italic", "align": "left", "baseline": "alphabetic", "color": "#000000"},
      "encoding": {"x": {"datum": 96.0}, "y": {"datum": -9.4}, "text": {"value": "B"}}
    },
    {
      "data": {"values": [{}]},
      "mark": {"type": "text", "font": "Liberation Serif", "fontSize": 48, "align": "left", "baseline": "alphabetic", "color": "#000000"},
      "encoding": {"x": {"datum": -71.2}, "y": {"datum": 81.6}, "text": {"value": "Konstante"}}
    },
    {
      "data": {"values": [{}]},
      "mark": {"type": "text", "font": "Liberation Serif", "fontSize": 48, "fontStyle": "italic", "align": "left", "baseline": "alphabetic", "color": "#000000"},
      "encoding": {"x": {"datum": -36.3}, "y": {"datum": 81.6}, "text": {"value": "T"}}
    },
    {
      "data": {"values": [{}]},
      "mark": {"type": "text", "font": "Liberation Serif", "fontSize": 48, "align": "left", "baseline": "alphabetic", "color": "#000000"},
      "encoding": {"x": {"datum": -129.8}, "y": {"datum": 33.8}, "text": {"value": "Sehr grob und relativ"}}
    }
  ]
}
